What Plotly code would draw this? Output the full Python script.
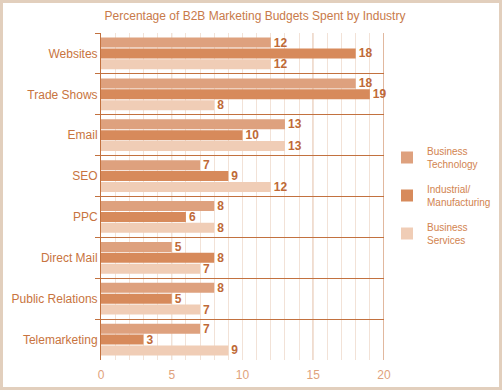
import plotly.graph_objects as go

categories = ["Websites", "Trade Shows", "Email", "SEO", "PPC", "Direct Mail",
              "Public Relations", "Telemarketing"]
series_names = ["Business<br>Technology", "Industrial/<br>Manufacturing", "Business<br>Services"]
business_technology = [12, 18, 13, 7, 8, 5, 8, 7]
industrial_manufacturing = [18, 19, 10, 9, 6, 8, 5, 3]
business_services = [12, 8, 13, 12, 8, 7, 7, 9]
x_ticks = [0, 5, 10, 15, 20]

colors = ["#dea17e", "#d78a5b", "#f0cdb6"]
dark = "#c2713f"
label_color = "#bf6a37"

W, H = 502, 390
ML, MR, MT, MB = 101, 118, 33, 30

fig = go.Figure()
for name, vals, col in zip(series_names, [business_technology, industrial_manufacturing, business_services], colors):
    fig.add_trace(go.Bar(
        y=categories, x=vals, name=name, orientation="h",
        marker=dict(color=col, line=dict(width=0)),
        text=[str(v) for v in vals], textposition="outside", constraintext="none",
        textfont=dict(family="Liberation Sans, Arial", size=12, color=label_color, weight="bold"),
        cliponaxis=False, legendgroup=name,
    ))

pw = W - ML - MR
ph = H - MT - MB

fig.update_layout(
    width=W, height=H,
    margin=dict(l=ML, r=MR, t=MT, b=MB, pad=0, autoexpand=False),
    paper_bgcolor="white", plot_bgcolor="white",
    barmode="group", bargap=0.2, bargroupgap=0.08,
    font=dict(family="Liberation Sans, Arial", size=12, color=dark),
    title=dict(text="Percentage of B2B Marketing Budgets Spent by Industry",
               x=255 / W, xanchor="center", xref="container",
               y=1 - 16 / H, yanchor="middle", yref="container",
               font=dict(size=12, color="#c87a4a")),
    xaxis=dict(range=[0, 20], tickvals=x_ticks, showgrid=False,
               minor=dict(dtick=1, showgrid=True, gridcolor="#f2e2d7", gridwidth=1),
               zeroline=False, showline=False, ticks="", automargin=False,
               ticklabelstandoff=6,
               tickfont=dict(size=12, color="#dfa27c"), fixedrange=True),
    yaxis=dict(autorange="reversed", tickson="boundaries", showgrid=True, gridcolor=dark,
               gridwidth=1, ticks="outside", ticklen=5, tickcolor=dark, automargin=False,
               showline=True, linecolor=dark, linewidth=1,
               tickfont=dict(size=12, color="#c87440"), zeroline=False),
    legend=dict(xref="container", yref="container", x=387 / W, y=1 - 138 / H,
                xanchor="left", yanchor="top",
                font=dict(size=10, color="#d2844f"), tracegroupgap=9,
                itemwidth=30, bgcolor="rgba(0,0,0,0)"),
    showlegend=True,
)

# major vertical gridlines: light at 5, dark at 10, 15, 20
for t in x_ticks[1:]:
    fig.add_vline(x=t, line=dict(color="#d9c9bd" if t == 5 else dark, width=1), layer="below")

# outer frame
fig.add_shape(type="rect", xref="paper", yref="paper",
              x0=-(ML - 1.5) / pw, x1=1 + (MR - 1.5) / pw,
              y0=-(MB - 1.5) / ph, y1=1 + (MT - 1.5) / ph,
              line=dict(color="#e2cfbd", width=3), fillcolor="rgba(0,0,0,0)", layer="below")

fig.write_html("out.html", config={"displayModeBar": False},
               post_script="document.body.style.margin='0';document.body.style.overflow='hidden';")
